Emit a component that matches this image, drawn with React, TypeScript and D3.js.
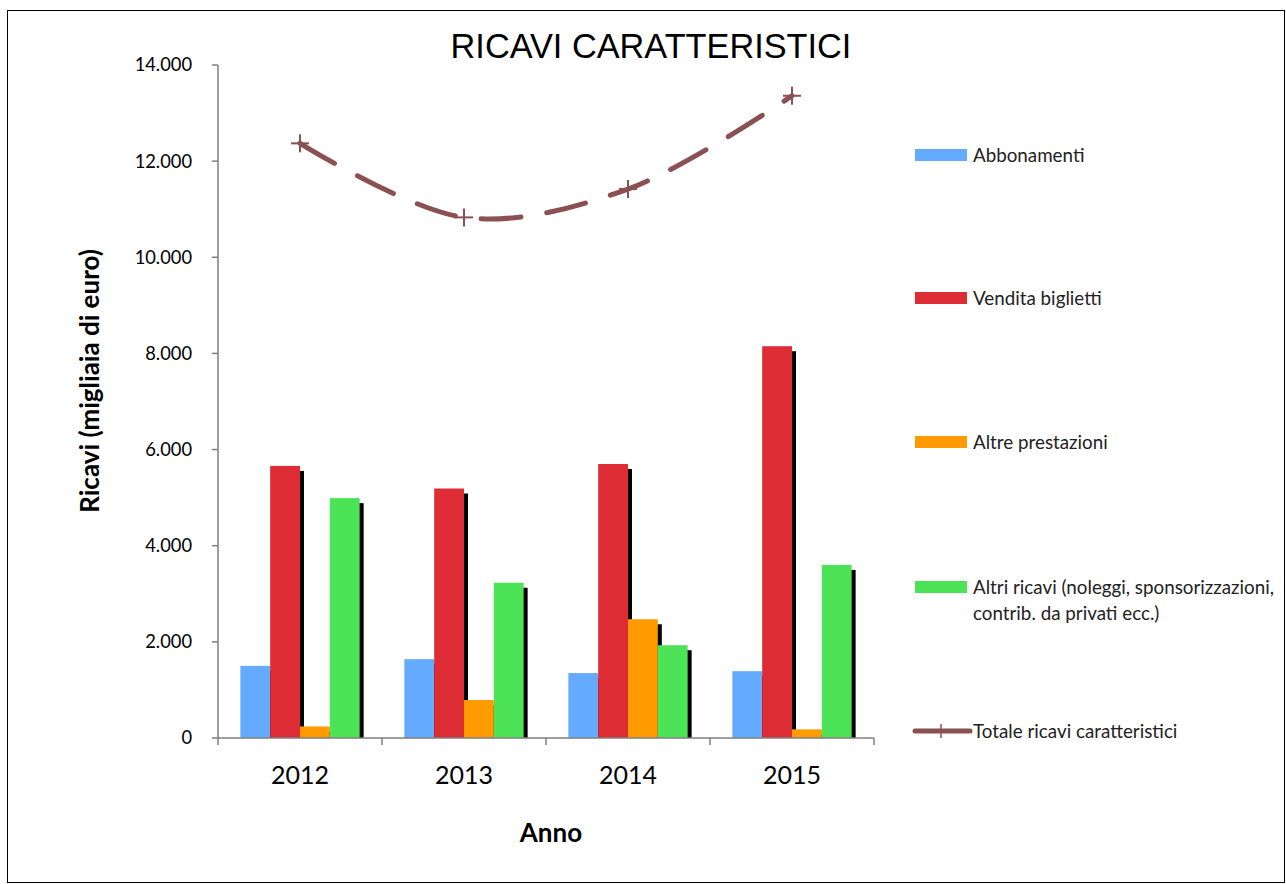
import React from "react";
import * as d3 from "d3";

const years = ["2012", "2013", "2014", "2015"];
const seriesNames = [
  "Abbonamenti",
  "Vendita biglietti",
  "Altre prestazioni",
  "Altri ricavi (noleggi, sponsorizzazioni, contrib. da privati ecc.)",
];
const abbonamenti = [1500, 1640, 1350, 1390];
const venditaBiglietti = [5660, 5190, 5700, 8150];
const altrePrestazioni = [240, 790, 2470, 180];
const altriRicavi = [4990, 3230, 1930, 3600];
const totale = [12370, 10830, 11420, 13360];
const totaleName = "Totale ricavi caratteristici";
const yTicks = [0, 2000, 4000, 6000, 8000, 10000, 12000, 14000];
const colors = ["#64AAFE", "#DD2C33", "#FF9A00", "#4DE356"];
const lineColor = "#8B5052";

const seriesValues = [abbonamenti, venditaBiglietti, altrePrestazioni, altriRicavi];

const FONT = "Lato, 'Open Sans', sans-serif";

export default function App() {
  const x0 = 218, x1 = 874, yTop = 65, yBot = 738;
  const x = d3.scaleBand<string>().domain(years).range([x0, x1]).paddingInner(0).paddingOuter(0);
  const xi = d3
    .scaleBand<number>()
    .domain(d3.range(seriesNames.length))
    .range([0, x.bandwidth()])
    .paddingInner(0)
    .paddingOuter(0.75);
  const y = d3.scaleLinear().domain([0, 14000]).range([yBot, yTop]);
  const fmt = d3.formatLocale({ thousands: ".", grouping: [3], decimal: ",", currency: ["€", ""] }).format(",");

  const line = d3
    .line<number>()
    .x((_, i) => (x(years[i]) as number) + x.bandwidth() / 2)
    .y((d) => y(d))
    .curve(d3.curveCatmullRom.alpha(0.5));

  const sx = 4, sy = 5;
  const legendY = [155, 298, 442, 587, 731];
  const axisColor = "#7f7f7f";
  const legendFont = 18.8;

  const cross = (cx: number, cy: number, key: string, s = 9) => (
    <g key={key} stroke={lineColor} strokeWidth={2}>
      <line x1={cx - s} x2={cx + s} y1={cy} y2={cy} />
      <line x1={cx} x2={cx} y1={cy - s} y2={cy + s} />
    </g>
  );

  return (
    <svg
      width={1286}
      height={884}
      style={{ position: "absolute", left: 0, top: 0, background: "#fff" }}
    >
      <rect x={7.5} y={10.5} width={1277} height={872} fill="#fff" stroke="#000" strokeWidth={1} />
      <text x={651} y={58} textAnchor="middle" fontFamily="'Liberation Sans', Arial, sans-serif" fontSize={34.3} fill="#000">
        RICAVI CARATTERISTICI
      </text>

      {/* bars */}
      {seriesValues.map((vals, si) => (
        <g key={si}>
          {vals.map((v, i) => {
            const bx = (x(years[i]) as number) + (xi(si) as number);
            const w = xi.bandwidth();
            const top = y(v);
            const h = yBot - top;
            return (
              <g key={i}>
                {h - sy > 0 && (
                  <rect x={bx + sx} y={top + sy} width={w} height={h - sy} fill="#000" />
                )}
                <rect x={bx} y={top} width={w} height={h} fill={colors[si]} />
              </g>
            );
          })}
        </g>
      ))}

      {/* axes */}
      <line x1={x0} x2={x0} y1={yTop} y2={yBot} stroke={axisColor} strokeWidth={1.5} />
      <line x1={x0} x2={x1} y1={yBot} y2={yBot} stroke={axisColor} strokeWidth={1.5} />
      {yTicks.map((t) => (
        <g key={t}>
          <line x1={x0 - 6} x2={x0} y1={y(t)} y2={y(t)} stroke={axisColor} strokeWidth={1.5} />
          <text x={192} y={y(t)} dy="0.35em" textAnchor="end" fontFamily={FONT} fontSize={18.3} fill="#000">
            {fmt(t)}
          </text>
        </g>
      ))}
      {[...years.map((yr) => x(yr) as number), x1].map((p, i) => (
        <line key={i} x1={p} x2={p} y1={yBot} y2={yBot + 7} stroke={axisColor} strokeWidth={1.5} />
      ))}
      {years.map((yr) => (
        <text
          key={yr}
          x={(x(yr) as number) + x.bandwidth() / 2}
          y={775}
          dy="0.35em"
          textAnchor="middle"
          fontFamily={FONT}
          fontSize={25}
          fill="#000"
        >
          {yr}
        </text>
      ))}
      <text x={551} y={833} dy="0.35em" textAnchor="middle" fontFamily={FONT} fontWeight="bold" fontSize={26} fill="#000">
        Anno
      </text>
      <text
        transform="translate(90,381) rotate(-90)"
        dy="0.35em"
        textAnchor="middle"
        fontFamily={FONT}
        fontWeight="bold"
        fontSize={26}
        fill="#000"
      >
        Ricavi (migliaia di euro)
      </text>

      {/* total line */}
      <path
        d={line(totale) as string}
        fill="none"
        stroke={lineColor}
        strokeWidth={5}
        strokeDasharray="40 26"
        strokeLinecap="round"
      />
      {totale.map((v, i) => cross((x(years[i]) as number) + x.bandwidth() / 2, y(v), "m" + i))}

      {/* legend */}
      {seriesNames.map((n, i) => (
        <g key={n}>
          <rect x={915} y={legendY[i] - 6} width={52} height={12} fill={colors[i]} />
          {i < 3 ? (
            <text x={973} y={legendY[i]} dy="0.35em" fontFamily={FONT} fontSize={legendFont} fill="#222">
              {n}
            </text>
          ) : (
            <text x={973} y={legendY[i]} dy="0.35em" fontFamily={FONT} fontSize={legendFont} fill="#222">
              <tspan x={973}>Altri ricavi (noleggi, sponsorizzazioni,</tspan>
              <tspan x={973} dy={26}>contrib. da privati ecc.)</tspan>
            </text>
          )}
        </g>
      ))}
      <line x1={915} x2={970} y1={legendY[4]} y2={legendY[4]} stroke={lineColor} strokeWidth={5} strokeLinecap="round" />
      <line x1={941} x2={941} y1={legendY[4] - 7} y2={legendY[4] + 7} stroke={lineColor} strokeWidth={1.5} />
      <text x={973} y={legendY[4]} dy="0.35em" fontFamily={FONT} fontSize={legendFont} fill="#222">
        {totaleName}
      </text>
    </svg>
  );
}
